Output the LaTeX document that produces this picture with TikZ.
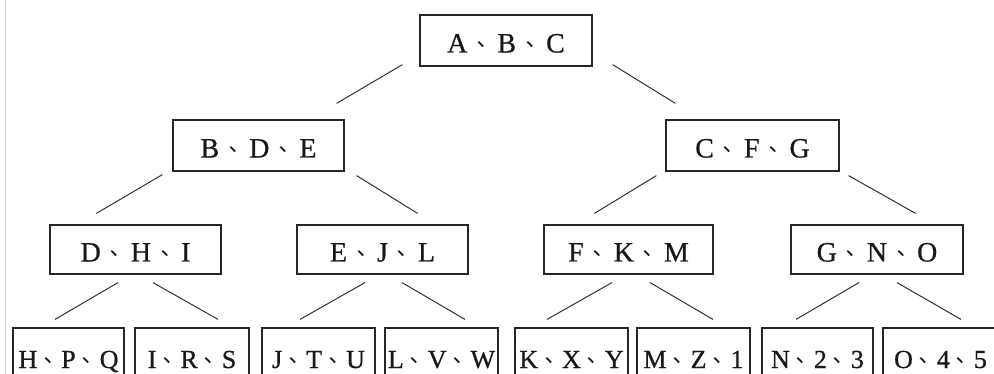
\documentclass[tikz,border=0pt]{standalone}
\usepackage{fontspec}
\setmainfont{Liberation Serif}[FakeBold=0.7]
\newfontfamily\cjk{Noto Sans CJK SC}
\usetikzlibrary{calc}
\newcommand{\dun}[1][30pt]{\makebox[#1]{\hspace{1pt}\raisebox{6pt}{\cjk\fontsize{22pt}{22pt}\selectfont ､}}}
\begin{document}
\begin{tikzpicture}[x=1pt,y=-1pt,
  box/.style={draw=black!85, line width=1.2pt, rectangle, inner sep=0pt,
    text height=24pt, text depth=0pt, text=black!90,
    font=\fontsize{28pt}{28pt}\selectfont},
  leafbox/.style={box, text height=18pt, minimum height=62pt,
    font=\fontsize{26pt}{26pt}\selectfont},
  link/.style={draw=black!80, line width=1pt}]
\useasboundingbox (0,0) rectangle (994,374);
\clip (0,0) rectangle (994,374);
\fill[white] (0,0) rectangle (994,374);
\draw[gray!35, line width=1pt] (5.5,0) -- (5.5,374);
% level 1
\node[box, minimum width=172pt, minimum height=51pt] (r) at (506,40.5) {A\dun B\dun C};
% level 2
\node[box, minimum width=171pt, minimum height=51pt] (b) at (258.5,145.5) {B\dun D\dun E};
\node[box, minimum width=173pt, minimum height=51pt] (c) at (752.5,145.5) {C\dun F\dun G};
% level 3
\node[box, minimum width=171pt, minimum height=49pt] (d) at (135.5,249.5) {D\dun H\dun I};
\node[box, minimum width=171pt, minimum height=49pt] (e) at (382.5,249.5) {E\dun J\dun L};
\node[box, minimum width=169pt, minimum height=49pt] (f) at (628.5,249.5) {F\dun K\dun M};
\node[box, minimum width=172pt, minimum height=49pt] (g) at (877,249.5) {G\dun N\dun O};
% level 4
\node[leafbox, minimum width=111pt] (hpq) at (68.5,359) {H\dun[24pt]P\dun[24pt]Q};
\node[leafbox, minimum width=114pt] (irs) at (192,359) {I\dun[24pt]R\dun[24pt]S};
\node[leafbox, minimum width=113pt] (jtu) at (318.5,359) {J\dun[24pt]T\dun[24pt]U};
\node[leafbox, minimum width=113pt] (lvw) at (441.5,359) {L\dun[24pt]V\dun[24pt]W};
\node[leafbox, minimum width=113pt] (kxy) at (571.5,359) {K\dun[24pt]X\dun[24pt]Y};
\node[leafbox, minimum width=113pt] (mz1) at (693.5,359) {M\dun[24pt]Z\dun[24pt]1};
\node[leafbox, minimum width=111pt] (n23) at (817.5,359) {N\dun[24pt]2\dun[24pt]3};
\node[leafbox, minimum width=115pt] (o45) at (940.5,359) {O\dun[24pt]4\dun[24pt]5};
% connectors
\draw[link] ($(r.south west)+(-17,-2)$) -- ($(b.north east)+(-8,-16)$);
\draw[link] ($(r.south east)+(20,-2)$) -- ($(c.north west)+(10,-16)$);
\draw[link] ($(b.south west)+(-10,3)$) -- ($(d.north west)+(47,-11)$);
\draw[link] ($(b.south east)+(12,4)$) -- ($(e.north east)+(-51,-11)$);
\draw[link] ($(c.south west)+(-9,4)$) -- ($(f.north west)+(51,-11)$);
\draw[link] ($(c.south east)+(9,4)$) -- ($(g.north east)+(-48,-11)$);
\draw[link] ($(d.south)+(-17.5,8)$) -- ($(hpq.north)+(-13.5,-8)$);
\draw[link] ($(d.south)+(17.5,8)$) -- ($(irs.north)+(26,-8)$);
\draw[link] ($(e.south)+(-17.5,8)$) -- ($(jtu.north)+(-18.5,-8)$);
\draw[link] ($(e.south)+(19.5,8)$) -- ($(lvw.north)+(23.5,-8)$);
\draw[link] ($(f.south)+(-16.5,8)$) -- ($(kxy.north)+(-24.5,-8)$);
\draw[link] ($(f.south)+(21.5,8)$) -- ($(mz1.north)+(19.5,-8)$);
\draw[link] ($(g.south)+(-18,8)$) -- ($(n23.north)+(-21.5,-8)$);
\draw[link] ($(g.south)+(20,8)$) -- ($(o45.north)+(20.5,-8)$);
\end{tikzpicture}
\end{document}
